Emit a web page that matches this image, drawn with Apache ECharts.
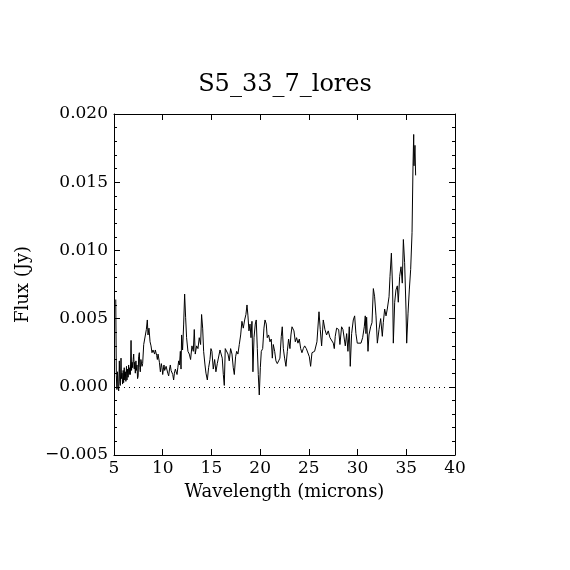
<!DOCTYPE html>
<html>
<head>
<meta charset="utf-8">
<script src="https://cdn.jsdelivr.net/npm/echarts@6/dist/echarts.min.js"></script>
<style>
  html, body { margin: 0; padding: 0; background: #fff; }
  #chart { width: 570px; height: 570px; }
</style>
</head>
<body>
<div id="chart"></div>
<script>
// spectrum (microns, Jy)
var wavelength = [
  5.18, 5.24, 5.30, 5.36, 5.42, 5.48, 5.55, 5.60, 5.65, 5.72, 5.77, 5.82, 5.88, 5.94, 5.99,
  6.05, 6.10, 6.16, 6.22, 6.28, 6.33, 6.40, 6.45, 6.50, 6.56, 6.62, 6.68, 6.75, 6.80, 6.86,
  6.92, 6.97, 7.02, 7.08, 7.13, 7.19, 7.25, 7.30, 7.36, 7.42, 7.48, 7.53, 7.60, 7.65, 7.70,
  7.76, 7.81, 7.88, 7.94, 8.05, 8.15, 8.22, 8.32, 8.42, 8.49, 8.59, 8.70, 8.80, 8.90, 9.00,
  9.07, 9.17, 9.24, 9.31, 9.38, 9.45, 9.52, 9.59, 9.66, 9.76, 9.86, 9.93, 10.00, 10.07, 10.13,
  10.20, 10.27, 10.35, 10.44, 10.52, 10.61, 10.70, 10.78, 10.86, 10.95, 11.03, 11.12, 11.20, 11.30, 11.38,
  11.47, 11.55, 11.64, 11.72, 11.81, 11.88, 11.94, 12.04, 12.15, 12.25, 12.35, 12.45, 12.59, 12.73, 12.86,
  13.00, 13.14, 13.24, 13.34, 13.48, 13.62, 13.75, 13.89, 13.99, 14.10, 14.20, 14.34, 14.44, 14.58, 14.71,
  14.85, 14.95, 15.05, 15.19, 15.33, 15.46, 15.60, 15.74, 15.88, 16.01, 16.11, 16.22, 16.32, 16.42, 16.56,
  16.70, 16.83, 16.97, 17.11, 17.24, 17.35, 17.48, 17.59, 17.72, 17.86, 18.00, 18.13, 18.27, 18.41, 18.54,
  18.65, 18.75, 18.85, 18.96, 19.06, 19.16, 19.26, 19.37, 19.50, 19.60, 19.71, 19.81, 19.91, 20.02, 20.12,
  20.26, 20.39, 20.50, 20.63, 20.73, 20.87, 21.01, 21.14, 21.25, 21.35, 21.49, 21.62, 21.76, 21.90, 22.03,
  22.17, 22.27, 22.38, 22.51, 22.65, 22.79, 22.92, 23.06, 23.16, 23.27, 23.37, 23.47, 23.61, 23.74, 23.88,
  24.02, 24.16, 24.29, 24.43, 24.57, 24.74, 24.91, 25.05, 25.18, 25.32, 25.46, 25.59, 25.73, 25.83, 25.90,
  26.04, 26.17, 26.31, 26.48, 26.65, 26.82, 26.99, 27.17, 27.34, 27.51, 27.61, 27.71, 27.85, 28.06, 28.19,
  28.36, 28.50, 28.64, 28.74, 28.88, 29.01, 29.15, 29.25, 29.39, 29.56, 29.70, 29.83, 29.97, 30.11, 30.35,
  30.52, 30.69, 30.79, 30.86, 30.93, 31.07, 31.17, 31.34, 31.48, 31.62, 31.75, 31.89, 32.03, 32.20, 32.37,
  32.54, 32.64, 32.78, 32.92, 33.05, 33.23, 33.33, 33.47, 33.60, 33.67, 33.81, 33.94, 34.08, 34.18, 34.32,
  34.46, 34.59, 34.70, 34.83, 34.97, 35.04, 35.18, 35.31, 35.45, 35.59, 35.69, 35.76, 35.79, 35.89, 35.96
];
var flux = [
  0.0064, 0.0008, -0.0002, 0.0011, 0.0000, -0.0003, 0.0019, 0.0004, 0.0001, 0.0021, 0.0006, 0.0010, 0.0002, 0.0012, 0.0003,
  0.0014, 0.0005, 0.0011, 0.0004, 0.0015, 0.0005, 0.0013, 0.0007, 0.0016, 0.0009, 0.0014, 0.0009, 0.0034, 0.0012, 0.0018,
  0.0014, 0.0020, 0.0024, 0.0013, 0.0018, 0.0010, 0.0019, 0.0012, 0.0016, 0.0006, 0.0008, 0.0022, 0.0025, 0.0014, 0.0011,
  0.0020, 0.0020, 0.0015, 0.0017, 0.0031, 0.0032, 0.0032, 0.0042, 0.0049, 0.0038, 0.0043, 0.0033, 0.0030, 0.0025, 0.0027,
  0.0026, 0.0024, 0.0027, 0.0026, 0.0023, 0.0020, 0.0024, 0.0025, 0.0018, 0.0011, 0.0017, 0.0014, 0.0009, 0.0013, 0.0016,
  0.0012, 0.0011, 0.0015, 0.0014, 0.0010, 0.0008, 0.0013, 0.0016, 0.0012, 0.0011, 0.0009, 0.0005, 0.0010, 0.0013, 0.0011,
  0.0009, 0.0014, 0.0019, 0.0016, 0.0026, 0.0013, 0.0038, 0.0027, 0.0046, 0.0068, 0.0051, 0.0036, 0.0026, 0.0024, 0.0020,
  0.0030, 0.0026, 0.0042, 0.0024, 0.0030, 0.0028, 0.0036, 0.0031, 0.0053, 0.0043, 0.0026, 0.0016, 0.0010, 0.0005, 0.0014,
  0.0020, 0.0028, 0.0026, 0.0013, 0.0020, 0.0011, 0.0017, 0.0016, 0.0027, 0.0028, 0.0021, 0.0009, 0.0001, 0.0028, 0.0027,
  0.0024, 0.0019, 0.0028, 0.0024, 0.0014, 0.0009, 0.0022, 0.0026, 0.0024, 0.0031, 0.0038, 0.0048, 0.0043, 0.0049, 0.0053,
  0.0060, 0.0052, 0.0041, 0.0046, 0.0036, 0.0048, 0.0011, 0.0036, 0.0046, 0.0049, 0.0028, 0.0009, -0.0006, 0.0014, 0.0026,
  0.0028, 0.0043, 0.0049, 0.0046, 0.0036, 0.0038, 0.0033, 0.0035, 0.0021, 0.0031, 0.0026, 0.0019, 0.0017, 0.0019, 0.0021,
  0.0037, 0.0044, 0.0028, 0.0021, 0.0015, 0.0026, 0.0035, 0.0028, 0.0038, 0.0044, 0.0044, 0.0041, 0.0033, 0.0036, 0.0032,
  0.0035, 0.0028, 0.0025, 0.0028, 0.0030, 0.0028, 0.0027, 0.0022, 0.0015, 0.0025, 0.0024, 0.0026, 0.0027, 0.0033, 0.0032,
  0.0055, 0.0042, 0.0030, 0.0049, 0.0042, 0.0038, 0.0041, 0.0036, 0.0037, 0.0032, 0.0028, 0.0037, 0.0043, 0.0042, 0.0031,
  0.0044, 0.0042, 0.0035, 0.0030, 0.0039, 0.0026, 0.0044, 0.0015, 0.0039, 0.0049, 0.0052, 0.0039, 0.0032, 0.0031, 0.0032,
  0.0036, 0.0044, 0.0052, 0.0039, 0.0051, 0.0026, 0.0038, 0.0044, 0.0047, 0.0072, 0.0066, 0.0052, 0.0032, 0.0042, 0.0050,
  0.0037, 0.0047, 0.0057, 0.0052, 0.0057, 0.0066, 0.0081, 0.0098, 0.0071, 0.0032, 0.0062, 0.0071, 0.0074, 0.0062, 0.0081,
  0.0088, 0.0076, 0.0108, 0.0091, 0.0057, 0.0032, 0.0054, 0.0071, 0.0086, 0.0113, 0.0162, 0.0185, 0.0162, 0.0177, 0.0155
];
var xTicks = { min: 5, max: 40, step: 5 };
var yTicks = { min: -0.005, max: 0.020, step: 0.005 };

var chart = echarts.init(document.getElementById('chart'));
var font = 'DejaVu Serif';

var aPoints = [];
for (var i = 0; i < wavelength.length; i++) {
    aPoints.push([wavelength[i], flux[i]]);
}

function xAxisOf(aPos, aLabels) {
    return {
        type: 'value', position: aPos,
        min: xTicks.min, max: xTicks.max, interval: xTicks.step,
        name: aLabels ? 'Wavelength (microns)' : '',
        nameLocation: 'middle', nameGap: 28,
        nameTextStyle: { color: '#000', fontFamily: font, fontSize: 18 },
        axisLine: { show: true, onZero: false, lineStyle: { color: '#000', width: 1 } },
        axisTick: { show: true, inside: true, length: 6, lineStyle: { color: '#000' } },
        axisLabel: { show: aLabels, color: '#000', fontFamily: font, fontSize: 17, margin: 5 },
        splitLine: { show: false }
    };
}
function yAxisOf(aPos, aLabels) {
    return {
        type: 'value', position: aPos,
        min: yTicks.min, max: yTicks.max, interval: yTicks.step,
        name: aLabels ? 'Flux (Jy)' : '',
        nameLocation: 'middle', nameGap: 82,
        nameTextStyle: { color: '#000', fontFamily: font, fontSize: 18 },
        axisLine: { show: true, onZero: false, lineStyle: { color: '#000', width: 1 } },
        axisTick: { show: true, inside: true, length: 6, lineStyle: { color: '#000' } },
        minorTick: { show: true, splitNumber: 5, length: 3, lineStyle: { color: '#000' } },
        axisLabel: {
            show: aLabels, color: '#000', fontFamily: font, fontSize: 17, margin: 6,
            formatter: function (v) {
                var s = Math.abs(v).toFixed(3);
                return (v < -1e-9 ? '\u2212' : '') + s;
            }
        },
        splitLine: { show: false }
    };
}

chart.setOption({
    animation: false,
    backgroundColor: '#fff',
    title: {
        text: 'S5_33_7_lores', left: 'center', top: 68,
        textStyle: { color: '#000', fontFamily: font, fontWeight: 'normal', fontSize: 24 }
    },
    grid: { left: 114, right: 115, top: 114, bottom: 115 },
    xAxis: [xAxisOf('bottom', true), xAxisOf('top', false)],
    yAxis: [yAxisOf('left', true), yAxisOf('right', false)],
    series: [{
        type: 'line',
        data: aPoints,
        showSymbol: false,
        symbol: 'none',
        lineStyle: { color: '#000', width: 1 },
        markLine: {
            silent: true, symbol: 'none', label: { show: false },
            lineStyle: { color: '#000', width: 1, type: [1, 4] },
            data: [{ yAxis: 0 }]
        }
    }]
});
</script>
</body>
</html>
